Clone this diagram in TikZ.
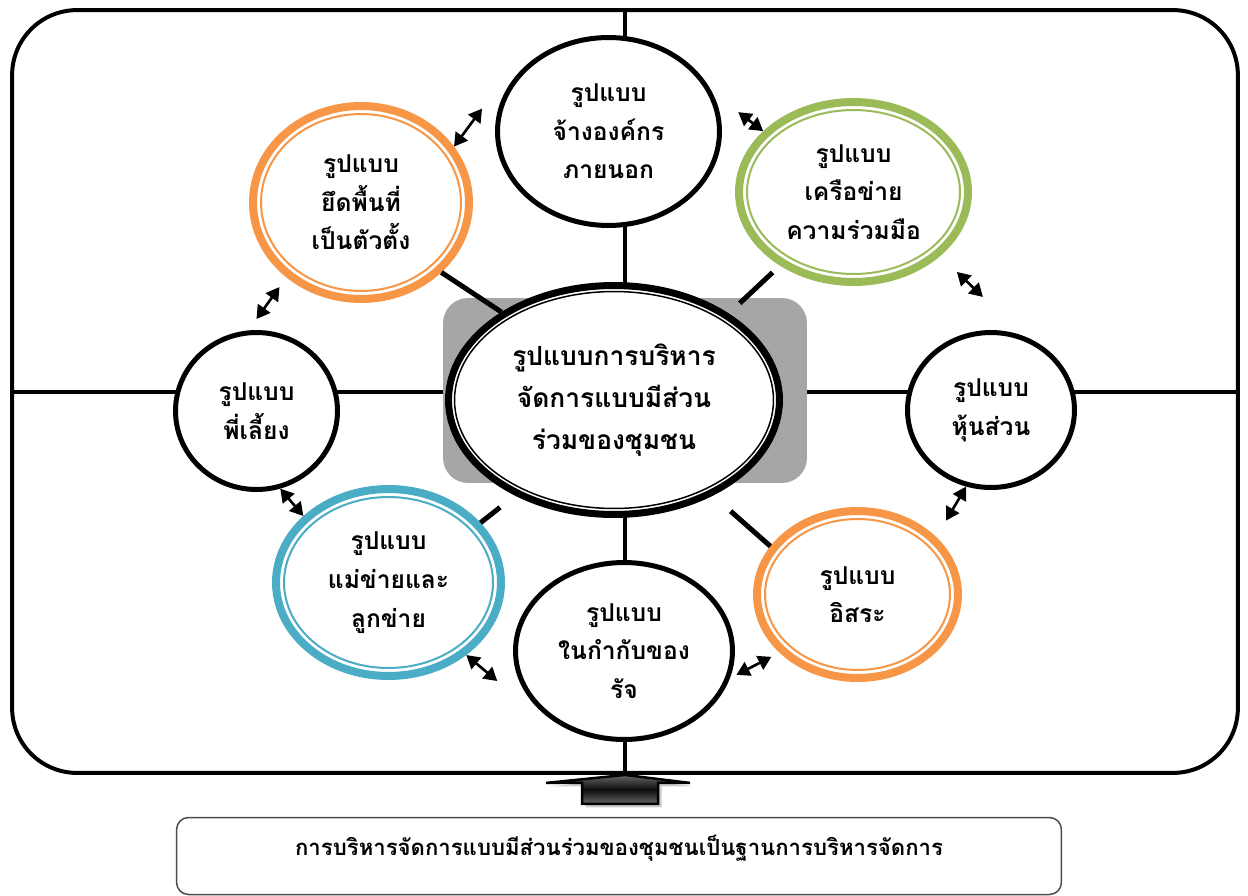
\documentclass[tikz,border=0pt]{standalone}
\usepackage{fontspec}
\newfontfamily\thai[Script=Thai]{Loma}
\usetikzlibrary{shapes.geometric,arrows.meta,calc,shadows}
\definecolor{ringorange}{HTML}{F79646}
\definecolor{ringgreen}{HTML}{9BBB59}
\definecolor{ringblue}{HTML}{4BACC6}
\definecolor{panelgray}{HTML}{A6A6A6}
\tikzset{
  model/.style={ellipse, draw, fill=white, line width=0.1cm, inner sep=0pt, align=center,
    font=\thai\bfseries\fontsize{14}{22}\selectfont},
  colring/.style={model, draw=#1, line width=0.16cm},
  innerring/.style={ellipse, draw=#1, line width=0.04cm, inner sep=0pt},
  link/.style={line width=0.1cm},
  twoway/.style={{Triangle[length=7.5pt,width=8.5pt]}-{Triangle[length=7.5pt,width=8.5pt]}, line width=1.5pt},
}

\begin{document}
\begin{tikzpicture}[x=0.02cm, y=-0.02cm]
    \useasboundingbox (0,0) rectangle (1248,896);

    % outer frame and cross
    \node[draw, line width=0.08cm, rounded corners=1.3cm, minimum width=24.52cm, minimum height=15.26cm] (frame) at (625,391.5) {};
    \draw[line width=0.08cm] (frame.north) -- (frame.south);
    \draw[line width=0.08cm] (frame.west) -- (frame.east);

    % centre
    \node[fill=panelgray, rounded corners=0.5cm, minimum width=7.28cm, minimum height=3.7cm, inner sep=0pt] (panel) at (625,390.5) {};
    \node[model, line width=0.14cm, minimum width=6.62cm, minimum height=4.58cm,
      font=\thai\bfseries\fontsize{15}{24}\selectfont] (hub) at (614,400) {รูปแบบการบริหาร\\จัดการแบบมีส่วน\\ร่วมของชุมชน};
    \node[innerring=black, line width=0.03cm, minimum width=6.38cm, minimum height=4.34cm] (hub-in) at (hub) {};

    % models round the centre
    \node[model, minimum width=4.44cm, minimum height=3.76cm] (top) at (608.5,131.5) {รูปแบบ\\จ้างองค์กร\\ภายนอก};
    \node[model, minimum width=3.24cm, minimum height=3.14cm] (left) at (256.5,411) {รูปแบบ\\พี่เลี้ยง};
    \node[model, minimum width=3.34cm, minimum height=3.10cm] (right) at (991,410) {รูปแบบ\\หุ้นส่วน};
    \node[model, minimum width=4.34cm, minimum height=3.54cm] (bottom) at (624,651) {รูปแบบ\\ในกำกับของ\\รัจ};

    \node[colring=ringorange, minimum width=4.32cm, minimum height=3.86cm] (ul) at (361,202.5) {รูปแบบ\\ยึดพื้นที่\\เป็นตัวตั้ง};
    \node[innerring=ringorange, minimum width=4.0cm, minimum height=3.54cm] (ul-in) at (ul) {};
    \node[colring=ringgreen, minimum width=4.58cm, minimum height=3.6cm] (ur) at (853.5,192) {รูปแบบ\\เครือข่าย\\ความร่วมมือ};
    \node[innerring=ringgreen, minimum width=4.26cm, minimum height=3.28cm] (ur-in) at (ur) {};
    \node[colring=ringblue, minimum width=4.5cm, minimum height=3.74cm] (ll) at (388.5,582.5) {รูปแบบ\\แม่ข่ายและ\\ลูกข่าย};
    \node[innerring=ringblue, minimum width=4.18cm, minimum height=3.42cm] (ll-in) at (ll) {};
    \node[colring=ringorange, minimum width=4.02cm, minimum height=3.34cm] (lr) at (857.5,594.5) {รูปแบบ\\อิสระ};
    \node[innerring=ringorange, minimum width=3.7cm, minimum height=3.02cm] (lr-in) at (lr) {};

    % spokes
    \draw[link] (hub.142) -- (ul.-41);
    \draw[link, shorten <=0.3cm, shorten >=0.2cm] (hub.37) -- (ur.-135);
    \draw[link, shorten <=0.38cm] (hub.-136) -- (ll.33);
    \draw[link, shorten <=0.47cm] (hub.-44) -- (lr.151);

    % two-way arrows
    \draw[twoway] (ul.31) -- ++(28,-38);
    \draw[twoway] (ur.146) -- ++(-25,-19);
    \draw[twoway] ([shift={(19,14)}]ur.-38) -- ++(26,25);
    \draw[twoway] (right.252) -- ++(-20,34);
    \draw[twoway] ([shift={(5,1)}]bottom.-12) -- ++(35,-18);
    \draw[twoway] (ll.-43) -- ++(31,26);
    \draw[twoway] (left.-73) -- (ll.142);
    \draw[twoway] ([shift={(0,-11)}]left.90) -- ++(23,-32);

    % base
    \draw[line width=0.05cm, top color=black!60, bottom color=black!60, middle color=black!95,
      drop shadow={shadow xshift=2pt, shadow yshift=-2pt, opacity=0.4}]
      ([shift={(-79,8)}]frame.south) -- (frame.south) -- ++(65,8) -- ++(-32,0) -- ++(0,21) -- ++(-76,0) -- ++(0,-21) -- cycle;
    \node[draw=black!70, line width=0.03cm, rounded corners=0.24cm, minimum width=17.7cm, minimum height=1.54cm, inner sep=0pt] (base) at (619,856) {};
    \node[font=\thai\bfseries\fontsize{12.6}{16}\selectfont] (basetext) at (619,848) {การบริหารจัดการแบบมีส่วนร่วมของชุมชนเป็นฐานการบริหารจัดการ};
\end{tikzpicture}
\end{document}
